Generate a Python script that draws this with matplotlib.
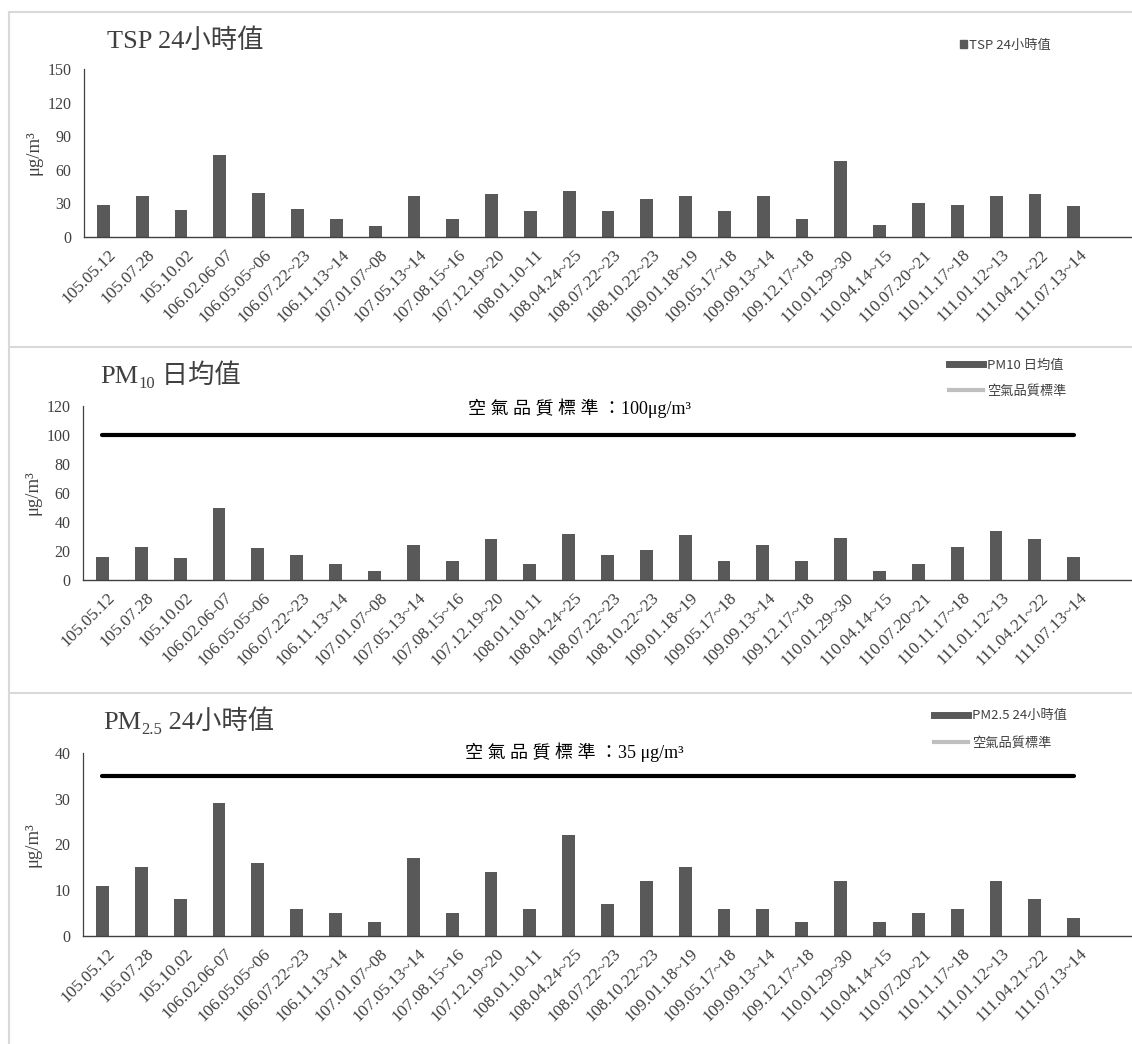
import numpy as np
import matplotlib
matplotlib.use("Agg")
import matplotlib.pyplot as plt
from matplotlib.lines import Line2D
from matplotlib.patches import Patch
from matplotlib.transforms import ScaledTranslation

# sampling dates (ROC calendar)
dates = ["105.05.12", "105.07.28", "105.10.02", "106.02.06-07", "106.05.05~06",
         "106.07.22~23", "106.11.13~14", "107.01.07~08", "107.05.13~14", "107.08.15~16",
         "107.12.19~20", "108.01.10-11", "108.04.24~25", "108.07.22~23", "108.10.22~23",
         "109.01.18~19", "109.05.17~18", "109.09.13~14", "109.12.17~18", "110.01.29~30",
         "110.04.14~15", "110.07.20~21", "110.11.17~18", "111.01.12~13", "111.04.21~22",
         "111.07.13~14"]

tsp = [29, 37, 24, 73, 39, 25, 16, 10, 37, 16, 38, 23, 41, 23, 34, 37, 23, 37, 16,
       68, 11, 30, 29, 37, 38, 28]
pm10 = [16, 23, 15, 50, 22, 17, 11, 6, 24, 13, 28, 11, 32, 17, 21, 31, 13, 24, 13,
        29, 6, 11, 23, 34, 28, 16]
pm25 = [11, 15, 8, 29, 16, 6, 5, 3, 17, 5, 14, 6, 22, 7, 12, 15, 6, 6, 3, 12, 3, 5,
        6, 12, 8, 4]
pm10_std = 100
pm25_std = 35

W, H = 1132, 1044
SERIF = ["Liberation Serif", "Noto Sans CJK TC"]
CJK = ["Noto Sans CJK TC", "DejaVu Sans"]
BAR = "#595959"
TXT = "#404040"

plt.rcParams["font.family"] = SERIF

fig = plt.figure(figsize=(W / 100, H / 100), dpi=100)
shift = ScaledTranslation(5 / 100, 0, fig.dpi_scale_trans)


def px_axes(left, top, right, bottom):
    return fig.add_axes([left / W, 1 - bottom / H, (right - left) / W, (bottom - top) / H])


def style(ax, ymax, step):
    x = np.arange(len(dates))
    ax.set_xlim(-0.5, 26.5)
    ax.set_ylim(0, ymax)
    ax.set_yticks(np.arange(0, ymax + 1, step))
    ax.set_xticks(x)
    ax.set_xticklabels(dates, rotation=45, ha="right", rotation_mode="anchor")
    ax.tick_params(axis="both", length=0, colors=TXT)
    ax.tick_params(axis="y", pad=9, labelsize=11.5)
    ax.tick_params(axis="x", pad=7, labelsize=12.5)
    for lab in ax.get_xticklabels():
        lab.set_transform(lab.get_transform() + shift)
    for s in ["top", "right"]:
        ax.spines[s].set_visible(False)
    ax.spines["left"].set_color("#404040")
    ax.spines["bottom"].set_color("#404040")
    ax.spines["left"].set_linewidth(0.9)
    ax.spines["bottom"].set_linewidth(1.0)
    ax.set_ylabel("μg/m³", fontsize=13.5, color=TXT)
    ax.yaxis.set_label_coords(-0.040, 0.5)


x = np.arange(len(dates))

ax1 = px_axes(84, 69, 1132, 237)
ax1.bar(x, tsp, width=0.33, color=BAR)
style(ax1, 150, 30)

ax2 = px_axes(83, 406, 1132, 580)
ax2.bar(x, pm10, width=0.33, color=BAR)
ax2.plot(x, [pm10_std] * len(dates), color="black", lw=3, solid_capstyle="round")
style(ax2, 120, 20)

ax3 = px_axes(83, 753, 1132, 936)
ax3.bar(x, pm25, width=0.33, color=BAR)
ax3.plot(x, [pm25_std] * len(dates), color="black", lw=3, solid_capstyle="round")
style(ax3, 40, 10)

# titles (with subscripts built from separate pieces)
renderer = fig.canvas.get_renderer()


def title(xpx, ypx, main, sub, rest):
    t = fig.text(xpx / W, 1 - ypx / H, main, fontsize=19, color=TXT, va="baseline")
    if sub is None:
        return
    bb = t.get_window_extent(renderer)
    t2 = fig.text(bb.x1 / W, 1 - (ypx + 5) / H, sub, fontsize=12, color=TXT, va="baseline")
    bb2 = t2.get_window_extent(renderer)
    fig.text(bb2.x1 / W, 1 - ypx / H, rest, fontsize=19, color=TXT, va="baseline")


title(107, 48, "TSP 24小時值", None, None)
title(100, 383, "PM", "10", " 日均值")
title(103, 729, "PM", "2.5", " 24小時值")

# standard annotations
fig.text(580 / W, 1 - 408 / H, f"空 氣 品 質 標 準 ：{pm10_std}μg/m³", fontsize=13,
         color="black", ha="center", va="center")
fig.text(574 / W, 1 - 752 / H, f"空 氣 品 質 標 準 ：{pm25_std} μg/m³", fontsize=13,
         color="black", ha="center", va="center")

# legends
ax1.legend([Patch(color=BAR)], ["TSP 24小時值"], loc="center left",
           bbox_to_anchor=(960 / W, 1 - 45 / H), bbox_transform=fig.transFigure,
           frameon=False, handlelength=0.5, handleheight=0.5, handletextpad=0.15,
           borderpad=0, borderaxespad=0, prop={"family": CJK, "size": 9.5},
           labelcolor=TXT)

std_handle = Line2D([], [], color="#bfbfbf", lw=3)
ax2.legend([Line2D([], [], color=BAR, lw=5), std_handle], ["PM10 日均值", "空氣品質標準"],
           loc="center left", bbox_to_anchor=(949 / W, 1 - 378.5 / H),
           bbox_transform=fig.transFigure, frameon=False, handlelength=2.6,
           handletextpad=0.3, labelspacing=1.0, borderpad=0, borderaxespad=0,
           prop={"family": CJK, "size": 9.5}, labelcolor=TXT)
ax3.legend([Line2D([], [], color=BAR, lw=5), std_handle], ["PM2.5 24小時值", "空氣品質標準"],
           loc="center left", bbox_to_anchor=(934 / W, 1 - 729.5 / H),
           bbox_transform=fig.transFigure, frameon=False, handlelength=2.6,
           handletextpad=0.3, labelspacing=1.1, borderpad=0, borderaxespad=0,
           prop={"family": CJK, "size": 9.5}, labelcolor=TXT)

# panel borders
for ypx in [12, 346.5, 692.5]:
    fig.add_artist(Line2D([8.7 / W, 1], [1 - ypx / H, 1 - ypx / H], transform=fig.transFigure,
                          color="#d9d9d9", lw=1.5))
fig.add_artist(Line2D([8.7 / W, 8.7 / W], [0, 1 - 12 / H], transform=fig.transFigure,
                      color="#d9d9d9", lw=1.5))

fig.savefig("out.png", dpi=100, facecolor="white")
